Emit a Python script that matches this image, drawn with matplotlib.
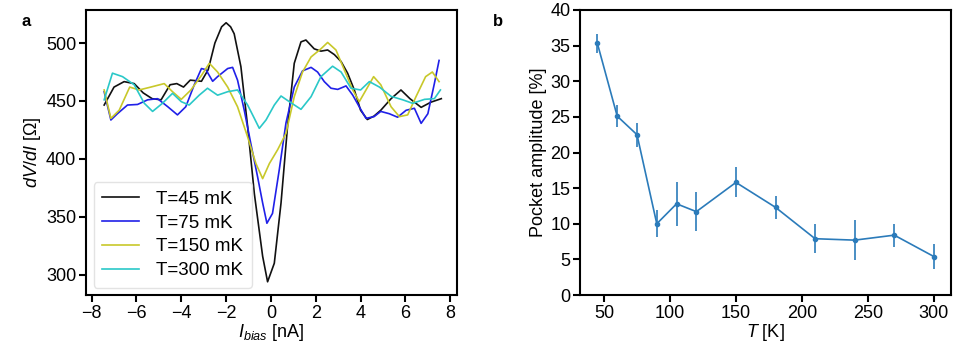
import matplotlib
matplotlib.use("Agg")
import matplotlib.pyplot as plt
import numpy as np

plt.rcParams['font.family'] = ['Liberation Sans', 'DejaVu Sans']
plt.rcParams['mathtext.fontset'] = 'custom'
plt.rcParams['mathtext.rm'] = 'Liberation Sans'
plt.rcParams['mathtext.it'] = 'Liberation Sans:italic'
plt.rcParams['mathtext.bf'] = 'Liberation Sans:bold'

# ---- Panel a data: dV/dI vs I_bias ----
i_45 = [-7.44, -7.0, -6.55, -6.1, -5.7, -5.3, -4.9, -4.5, -4.2, -3.9, -3.6, -3.1, -2.8, -2.5,
        -2.2, -2.0, -1.8, -1.64, -1.34, -1.04, -0.74, -0.37, -0.15, 0.15, 0.45, 0.74, 1.04,
        1.34, 1.56, 1.93, 2.23, 2.53, 2.83, 3.13, 3.42, 3.72, 4.0, 4.3, 4.6, 4.9, 5.36, 5.8,
        6.2, 6.7, 7.14, 7.6]
v_45 = [446.5, 462, 466.7, 465, 457, 452, 451, 464, 465, 462, 468, 467, 477, 500,
        514, 517.5, 514, 508, 479.6, 428, 370, 316, 294, 310, 362, 428, 482.5,
        501, 502.6, 495, 493, 494, 490, 484, 474, 459.5, 442, 434, 437, 442, 452, 459.5,
        452, 444.5, 449, 452]

i_75 = [-7.44, -7.14, -6.85, -6.4, -5.95, -5.5, -5.06, -4.6, -4.17, -3.8, -3.42, -3.1, -2.9,
        -2.6, -2.38, -1.93, -1.71, -1.49, -1.19, -0.9, -0.6, -0.37, -0.18, 0.07, 0.37, 0.67,
        1.04, 1.41, 1.79, 2.08, 2.38, 2.68, 2.98, 3.35, 3.65, 3.94, 4.24, 4.6, 4.9, 5.28,
        5.65, 6.03, 6.4, 6.7, 7.0, 7.29, 7.5]
v_75 = [458, 433.6, 439, 446.5, 447, 451, 452, 445, 438, 445, 464, 478, 477,
        467, 471, 478, 479, 468, 442, 413.5, 385, 362, 344.5, 353, 390.5, 431,
        462, 476, 479, 475, 466.7, 461, 460, 463, 455, 445, 435, 436.5, 441, 439,
        436, 442, 443.7, 430.7, 439, 465, 485]

i_150 = [-7.44, -7.14, -6.77, -6.3, -5.88, -5.36, -4.76, -4.39, -4.0, -3.57, -3.1, -2.75,
         -2.38, -1.93, -1.49, -1.04, -0.67, -0.37, -0.07, 0.3, 0.67, 1.04, 1.41, 1.79, 2.23,
         2.53, 2.9, 3.27, 3.65, 3.94, 4.24, 4.58, 4.9, 5.36, 5.73, 6.1, 6.47, 6.9, 7.2, 7.5]
v_150 = [459.5, 435, 442, 462, 459.5, 462, 465, 458, 451.4, 459.5, 472, 482.5,
         475, 462, 445, 419, 396, 383, 396, 408, 422, 453.7, 475, 488, 495,
         500.5, 494, 477, 459.5, 449.4, 459.5, 471, 464, 445, 436.5, 438, 453.7, 471, 475, 466.7]

i_300 = [-7.44, -7.07, -6.62, -6.1, -5.65, -5.28, -4.84, -4.39, -4.0, -3.65, -3.2, -2.83,
         -2.38, -1.93, -1.49, -1.04, -0.74, -0.52, -0.22, 0.15, 0.45, 0.82, 1.34, 1.79, 2.23,
         2.75, 3.13, 3.57, 4.0, 4.39, 4.84, 5.36, 5.88, 6.32, 6.85, 7.29, 7.56]
v_300 = [451, 474, 471, 464, 448, 441, 448, 456.6, 449.4, 446.5, 455, 461,
         455, 458, 459.5, 446.5, 435, 426.4, 433.6, 446.5, 454.3, 449.4, 442.8, 453.7, 471,
         480, 475, 461, 459.5, 466.7, 462, 454, 451, 448, 451.4, 452, 459.5]

curve_labels = ['T=45 mK', 'T=75 mK', 'T=150 mK', 'T=300 mK']
curve_colors = ['#111111', '#2020e8', '#c8c82a', '#2ac8c8']

# ---- Panel b data: pocket amplitude vs T ----
temps = [45, 60, 75, 90, 105, 120, 150, 180, 210, 240, 270, 300]
amp = [35.3, 25.1, 22.5, 10.0, 12.8, 11.7, 15.8, 12.3, 7.9, 7.7, 8.4, 5.4]
amp_err = [1.3, 1.5, 1.7, 1.9, 3.1, 2.7, 2.1, 1.6, 2.0, 2.8, 1.6, 1.8]

fig = plt.figure(figsize=(9.67, 3.44), dpi=100)
axa = fig.add_axes([86/967, 49/344, 371/967, 285/344])
axb = fig.add_axes([580/967, 49/344, 371/967, 285/344])

for xs, ys, lab, col in zip([i_45, i_75, i_150, i_300], [v_45, v_75, v_150, v_300],
                            curve_labels, curve_colors):
    axa.plot(xs, ys, color=col, lw=1.2, label=lab)

axa.set_xlim(-8.25, 8.3)
axa.set_ylim(282.6, 528.5)
axa.set_xticks(np.arange(-8, 9, 2))
axa.set_yticks([300, 350, 400, 450, 500])
axa.set_xlabel(r'$I_{bias}$ [nA]', fontsize=13, labelpad=0)
axa.set_ylabel(r'$dV/dI$ [$\Omega$]', fontsize=13, labelpad=2)
leg = axa.legend(loc='lower left', fontsize=13.5, frameon=True, handlelength=2.0,
                 borderpad=0.45, labelspacing=0.35, handletextpad=0.9,
                 borderaxespad=0.4)
leg.get_frame().set_edgecolor('#dddddd')

axb.errorbar(temps, amp, yerr=amp_err, fmt='-o', color='#2b7bba', ms=3, lw=1.2,
             elinewidth=1.2, capsize=0)
axb.set_ylim(0, 40)
axb.set_xlim(31.8, 313)
axb.set_xticks([50, 100, 150, 200, 250, 300])
axb.set_yticks(np.arange(0, 41, 5))
axb.set_xlabel(r'$T$ [K]', fontsize=13, labelpad=0)
axb.set_ylabel('Pocket amplitude [%]', fontsize=13, labelpad=2)

for ax in (axa, axb):
    for s in ax.spines.values():
        s.set_linewidth(1.5)
    ax.tick_params(direction='out', length=5, width=1.5, labelsize=13, pad=2)

fig.text(21/967, 1 - 22/344, 'a', fontsize=12, fontweight='bold', va='center')
fig.text(493/967, 1 - 22/344, 'b', fontsize=12, fontweight='bold', va='center')

fig.savefig('out.png', dpi=100)
